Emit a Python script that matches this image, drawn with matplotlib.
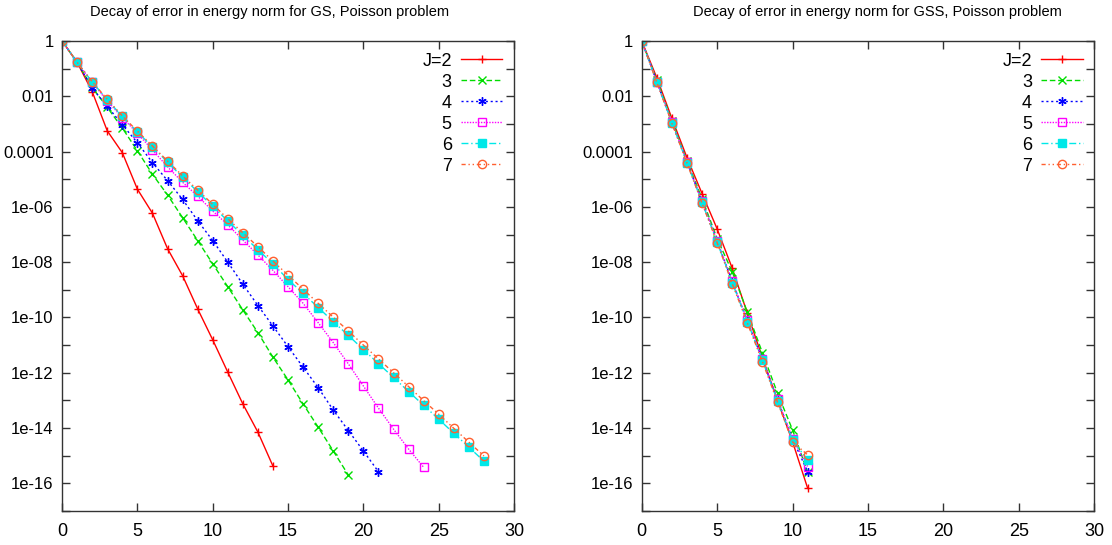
import numpy as np
import matplotlib.pyplot as plt
from matplotlib.ticker import FixedLocator, FuncFormatter

plt.rcParams['font.family'] = ['Liberation Sans', 'DejaVu Sans']

# log10 of the error, left panel (GS)
gs_j2 = [0, -0.77, -1.83, -3.25, -4.04, -5.36, -6.23, -7.51, -8.49, -9.69, -10.81,
         -11.98, -13.13, -14.15, -15.38]
gs_j3 = [0, -0.77, -1.68, -2.40, -3.15, -3.97, -4.82, -5.57, -6.39, -7.22, -8.06,
         -8.89, -9.73, -10.55, -11.44, -12.26, -13.13, -13.97, -14.83, -15.70]
gs_j4 = [0, -0.77, -1.71, -2.36, -3.03, -3.68, -4.40, -5.05, -5.73, -6.50, -7.22,
         -8.00, -8.80, -9.57, -10.31, -11.06, -11.80, -12.54, -13.35, -14.09, -14.83, -15.58]
gs_j5 = [0, -0.77, -1.50, -2.17, -2.77, -3.34, -3.94, -4.55, -5.11, -5.61, -6.15,
         -6.65, -7.20, -7.74, -8.30, -8.89, -9.49, -10.19, -10.91, -11.68, -12.48,
         -13.28, -14.04, -14.76, -15.42]
gs_j6 = [0, -0.77, -1.48, -2.13, -2.73, -3.29, -3.83, -4.38, -4.93, -5.45, -5.98,
         -6.51, -7.03, -7.55, -8.06, -8.63, -9.13, -9.64, -10.15, -10.65, -11.16,
         -11.67, -12.17, -12.68, -13.18, -13.68, -14.19, -14.69, -15.20]
gs_j7 = [0, -0.77, -1.47, -2.11, -2.71, -3.26, -3.80, -4.34, -4.88, -5.39, -5.91,
         -6.43, -6.94, -7.44, -7.96, -8.47, -8.98, -9.49, -9.99, -10.49, -11.00,
         -11.50, -12.00, -12.50, -13.01, -13.50, -14.01, -14.51, -15.01]

# right panel (GSS)
gss_j2 = [0, -1.33, -2.80, -4.22, -5.52, -6.80, -8.22, -9.85, -11.45, -13.00, -14.50, -16.18]
gss_j3 = [0, -1.42, -2.88, -4.33, -5.70, -7.15, -8.35, -9.80, -11.28, -12.74, -14.07, -15.60]
gss_j4 = [0, -1.47, -2.95, -4.38, -5.82, -7.25, -8.70, -10.12, -11.52, -12.98, -14.40, -15.58]
gss_j5 = [0, -1.47, -2.93, -4.37, -5.80, -7.22, -8.68, -10.10, -11.50, -12.95, -14.38, -15.40]
gss_j6 = [0, -1.48, -2.96, -4.40, -5.84, -7.28, -8.74, -10.15, -11.55, -13.02, -14.45, -15.15]
gss_j7 = [0, -1.50, -2.98, -4.42, -5.87, -7.30, -8.78, -10.20, -11.60, -13.06, -14.50, -14.97]

labels = ['J=2', '3', '4', '5', '6', '7']
titles = ['Decay of error in energy norm for GS, Poisson problem',
          'Decay of error in energy norm for GSS, Poisson problem']

styles = [
    dict(color='#ff0000', ls='-', marker='+', mfc='none'),
    dict(color='#00dd00', ls=(0, (4, 2)), marker='x', mfc='none'),
    dict(color='#0000ff', ls=(0, (1.5, 2)), marker=(6, 2, 0), mfc='none'),
    dict(color='#ff00ff', ls=(0, (1, 1)), marker='s', mfc='none'),
    dict(color='#00e8e8', ls=(0, (5, 2, 1, 2)), marker='s', mfc='#00e8e8'),
    dict(color='#ff6030', ls=(0, (3, 2, 1, 2, 1, 2)), marker='o', mfc='none'),
]

fig = plt.figure(figsize=(11.12, 5.45), dpi=100)
ax1 = fig.add_axes([0.0558, 0.0624, 0.4065, 0.8624])
ax2 = fig.add_axes([0.5771, 0.0624, 0.4070, 0.8624])

panels = [(ax1, [gs_j2, gs_j3, gs_j4, gs_j5, gs_j6, gs_j7], titles[0], 0.459),
          (ax2, [gss_j2, gss_j3, gss_j4, gss_j5, gss_j6, gss_j7], titles[1], 0.52)]


def fmt(v, pos):
    e = int(round(np.log10(v)))
    if e % 2:
        return ''
    if e == 0:
        return '1'
    if e == -2:
        return '0.01'
    if e == -4:
        return '0.0001'
    return '1e%03d' % e


for ax, series, title, tx in panels:
    for vals, lab, st in zip(series, labels, styles):
        x = np.arange(len(vals))
        ax.semilogy(x, 10.0 ** np.array(vals), label=lab, lw=1.0, ms=6,
                    mew=1.0, **st)
    ax.set_xlim(0, 30)
    ax.set_ylim(1e-17, 1)
    ax.xaxis.set_major_locator(FixedLocator(np.arange(0, 31, 5)))
    ax.yaxis.set_major_locator(FixedLocator(10.0 ** np.arange(-17, 1)))
    ax.yaxis.set_minor_locator(FixedLocator([]))
    ax.yaxis.set_major_formatter(FuncFormatter(fmt))
    ax.tick_params(direction='in', top=True, right=True, length=6, width=1,
                   labelsize=12, color='#333333')
    ax.tick_params(axis='x', pad=9, labelsize=13)
    ax.tick_params(axis='y', pad=6)
    for sp in ax.spines.values():
        sp.set_color('#333333')
        sp.set_linewidth(1.0)
    ax.text(tx, 1.062, title, transform=ax.transAxes, ha='center',
            va='center', fontsize=10.5)
    ax.legend(loc='upper right', markerfirst=False, frameon=False, fontsize=13,
              handlelength=2.3, labelspacing=0.22, handletextpad=0.5,
              borderaxespad=0.25)

fig.savefig('out.png', dpi=100)
